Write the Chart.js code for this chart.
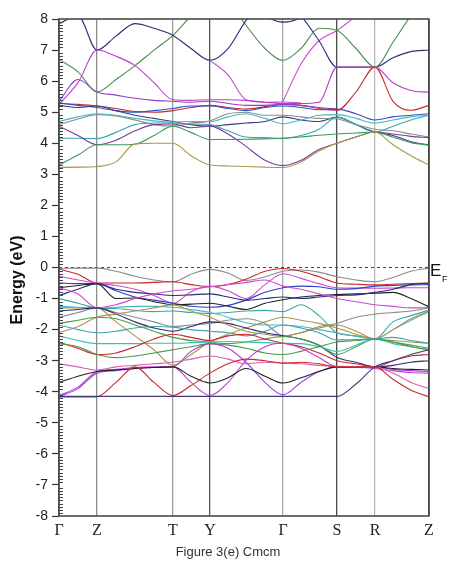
<!DOCTYPE html>
<html>
<head>
<meta charset="utf-8">
<script src="https://cdn.jsdelivr.net/npm/chart.js@4.4.0/dist/chart.umd.min.js"></script>
<style>
  html, body { margin: 0; padding: 0; background: #fff; }
  #wrap { width: 449px; height: 562px; position: relative; }
</style>
</head>
<body>
<div id="wrap"><canvas id="bands"></canvas></div>
<script>
// ===== k-path (distance along path) =====
const kPos = [0, 19, 38, 57, 76, 95, 114, 132, 151, 169, 187, 206, 224, 242, 260, 278, 297, 316, 334, 352, 370];
const kTicks = [0, 38, 114, 151, 224, 278, 316, 370];
const kLabels = ['Γ', 'Z', 'T', 'Y', 'Γ', 'S', 'R', 'Z'];
const energyTicks = [-8, -7, -6, -5, -4, -3, -2, -1, 0, 1, 2, 3, 4, 5, 6, 7, 8];
const efLevel = 0;

// ===== Conduction bands (eV at each kPos) =====
const c1  = [5.25, 5.95, 7.00, 6.80, 6.50, 5.95, 5.40, 5.38, 5.40, 5.40, 5.38, 5.32, 5.28, 5.28, 5.32, 6.45, 6.45, 6.45, 5.95, 5.70, 5.64];
const c2  = [7.85, 8.10, 7.00, 7.45, 7.85, 7.70, 7.47, 7.05, 6.67, 7.05, 7.95, 8.60, null, null, null, null, null, null, null, null, null];
const c3  = [6.70, 6.30, 5.65, 6.05, 6.50, 7.00, 7.47, 8.10, 8.70, null, null, null, null, null, null, null, null, null, null, null, null];
const c4  = [null, null, null, null, null, null, null, null, 6.67, 6.20, 5.40, 5.32, 5.33, 5.30, null, null, null, null, null, null, null];
const c5  = [5.35, 6.05, 5.65, 5.55, 5.45, 5.38, 5.35, 5.32, 5.35, 5.28, 5.22, 5.22, 5.25, 5.22, 5.15, 5.10, null, null, null, null, null];
const c6  = [null, null, null, null, null, null, null, null, null, 8.60, 7.80, 7.05, 6.67, 7.05, 7.70, 7.63, 7.05, 6.45, 7.25, 8.10, 8.70];
const c7  = [null, null, null, null, null, null, null, null, null, null, 8.60, 8.10, 7.90, 8.05, 8.60, null, null, null, null, null, null];
const c8  = [null, null, null, null, null, null, null, null, null, null, null, null, 8.60, 8.10, 7.30, 6.45, 6.45, 6.45, 6.75, 6.95, 7.00];
const c9  = [null, null, null, null, null, null, null, null, null, null, null, null, 5.35, 6.55, 7.30, 7.63, 8.10, 8.60, null, null, null];
const c10 = [5.28, 5.25, 5.20, 5.12, 5.02, 5.00, 5.05, 5.15, 5.22, 5.15, 5.10, 5.18, 5.25, 5.22, 5.12, 5.06, 5.65, 6.45, 5.35, 5.06, 5.22];
const l1  = [3.22, 3.23, 3.25, 3.40, 3.98, 4.00, 4.00, 3.60, 3.30, 3.27, 3.25, 3.23, 3.22, 3.40, 3.75, 4.00, 4.20, 4.36, 3.95, 3.60, 3.30];
const l2  = [3.30, 3.62, 3.95, 3.95, 3.97, 4.25, 4.55, 4.35, 4.12, 4.12, 4.13, 4.14, 4.16, 4.20, 4.26, 4.30, 4.33, 4.36, 4.20, 4.02, 3.94];
const l3  = [4.55, 4.25, 3.95, 4.10, 4.40, 4.60, 4.62, 4.50, 4.55, 4.30, 3.90, 3.45, 3.28, 3.45, 3.80, 4.00, 4.20, 4.36, 4.30, 4.22, 4.18];
const l4  = [4.16, 4.16, 4.15, 4.35, 4.60, 4.65, 4.65, 4.62, 4.60, 4.40, 4.20, 4.18, 4.16, 4.25, 4.45, 4.84, 4.60, 4.36, 4.55, 4.75, 4.90];
const l5  = [4.70, 4.85, 4.95, 4.90, 4.80, 4.72, 4.68, 4.70, 4.70, 4.85, 4.95, 4.80, 4.63, 4.75, 4.90, 4.92, 4.80, 4.65, 4.75, 4.85, 4.90];
const l6  = [4.60, 4.78, 4.92, 4.88, 4.75, 4.60, 4.55, 4.65, 4.72, 4.95, 5.00, 4.90, 4.90, 4.85, 4.80, 4.78, 4.60, 4.45, 4.40, 4.30, 4.20];
const l7  = [5.22, 5.15, 5.20, 5.05, 4.90, 4.80, 4.70, 4.60, 4.55, 4.60, 4.65, 4.70, 4.85, 4.75, 4.70, 4.84, 4.60, 4.36, 4.25, 4.05, 3.94];
const l8  = [5.30, 5.22, 5.15, 5.05, 5.00, 5.05, 5.12, 5.20, 5.20, 5.12, 5.05, 5.15, 5.20, 5.15, 5.08, 5.10, 4.95, 4.75, 4.85, 4.90, 4.95];

// ===== Valence bands =====
const v1  = [-0.03, -0.02, -0.02, -0.12, -0.28, -0.40, -0.46, -0.22, -0.06, -0.18, -0.42, -0.30, -0.12, -0.08, -0.15, -0.30, -0.40, -0.46, -0.32, -0.12, -0.02];
const v2  = [-0.05, -0.22, -0.50, -0.50, -0.50, -0.48, -0.46, -0.55, -0.62, -0.55, -0.38, -0.12, -0.03, -0.12, -0.30, -0.50, -0.54, -0.56, -0.54, -0.52, -0.50];
const v3  = [-0.28, -0.40, -0.50, -0.58, -0.70, -0.90, -1.15, -0.78, -0.60, -0.75, -1.00, -0.55, -0.20, -0.35, -0.52, -0.65, -0.66, -0.67, -0.66, -0.65, -0.65];
const v4  = [-0.50, -0.52, -0.52, -0.75, -0.95, -1.05, -1.15, -1.25, -1.28, -1.22, -1.05, -0.80, -0.65, -0.60, -0.62, -0.70, -0.68, -0.60, -0.58, -0.56, -0.55];
const v5  = [-0.65, -0.58, -0.52, -1.00, -0.98, -1.10, -1.20, -1.18, -1.15, -1.25, -1.35, -1.15, -1.04, -0.95, -0.90, -0.87, -0.85, -0.83, -0.80, -1.00, -1.27];
const v6  = [-0.90, -0.70, -0.52, -0.70, -0.80, -0.85, -0.90, -0.88, -0.85, -0.95, -1.05, -1.00, -0.95, -1.00, -0.95, -0.90, -0.88, -0.80, -0.70, -0.55, -0.50];
const v7  = [-1.00, -1.15, -1.30, -1.32, -1.38, -1.42, -1.40, -1.45, -1.48, -1.45, -1.40, -1.38, -1.42, -1.20, -1.55, -2.10, -2.20, -2.30, -1.75, -1.55, -1.37];
const v8  = [-1.25, -1.28, -1.30, -1.28, -1.25, -1.25, -1.28, -1.35, -1.45, -1.60, -1.78, -1.85, -1.85, -1.90, -2.00, -2.10, -2.22, -2.30, -2.00, -1.70, -1.42];
const v9  = [-1.30, -1.30, -1.30, -1.75, -2.20, -2.65, -3.15, -2.80, -2.40, -2.15, -1.95, -1.75, -1.60, -1.70, -1.80, -1.95, -2.15, -2.30, -2.35, -2.40, -2.44];
const v10 = [-1.60, -1.45, -1.30, -1.45, -1.60, -1.75, -1.90, -1.85, -1.80, -1.70, -1.65, -1.80, -2.20, -2.10, -1.90, -1.80, -1.60, -1.50, -1.45, -1.40, -1.30];
const v11 = [-1.80, -1.70, -1.60, -1.65, -1.85, -2.05, -2.25, -2.35, -2.40, -2.45, -2.40, -2.30, -2.22, -2.30, -2.50, -2.80, -2.55, -2.30, -2.40, -2.50, -2.60];
const v12 = [-2.20, -2.35, -2.45, -2.45, -2.45, -2.44, -2.44, -2.42, -2.40, -2.38, -2.40, -2.42, -2.44, -2.45, -2.55, -2.70, -2.50, -2.30, -2.45, -2.55, -2.65];
const v13 = [-2.40, -2.60, -2.80, -2.75, -2.55, -2.30, -2.15, -2.25, -2.35, -2.20, -2.15, -2.30, -2.44, -2.55, -2.75, -3.00, -3.10, -3.20, -3.00, -2.85, -2.80];
const v14 = [-4.12, -3.85, -3.35, -3.28, -3.22, -3.20, -3.20, -3.70, -4.12, -3.70, -3.00, -2.55, -2.44, -2.60, -2.90, -3.20, -3.22, -3.25, -3.32, -3.38, -3.40];
const v15 = [-4.15, -3.90, -3.40, -3.32, -3.25, -3.22, -3.20, -2.70, -2.45, -2.60, -3.05, -3.70, -4.10, -3.70, -3.35, -3.20, -3.20, -3.20, -3.28, -3.32, -3.35];
const v16 = [-3.70, -3.50, -3.35, -3.30, -3.25, -3.22, -3.20, -3.50, -3.72, -3.55, -3.25, -3.50, -3.72, -3.55, -3.35, -3.20, -3.20, -3.20, -3.25, -3.28, -3.30];
const v17 = [-3.10, -3.20, -3.30, -3.20, -3.15, -3.10, -3.05, -2.95, -2.85, -2.95, -3.10, -3.05, -3.08, -3.10, -3.15, -3.18, -3.19, -3.20, -3.40, -3.70, -3.90];
const v18 = [-4.15, -4.15, -4.15, -4.15, -4.15, -4.15, -4.15, -4.15, -4.15, -4.15, -4.15, -4.15, -4.15, -4.15, -4.15, -4.15, -3.75, -3.20, -3.00, -2.80, -2.65];
const v19 = [-4.17, -4.17, -4.16, -3.70, -3.20, -3.70, -4.12, -3.80, -3.40, -3.10, -2.95, -3.00, -3.08, -3.05, -3.10, -3.20, -3.20, -3.20, -3.60, -3.95, -4.16];
const v20 = [-1.85, -2.00, -2.10, -2.05, -1.95, -1.90, -1.92, -2.00, -2.05, -2.10, -2.20, -2.05, -1.85, -1.95, -2.10, -2.33, -2.32, -2.30, -2.25, -2.35, -2.44];
const v21 = [-2.10, -1.90, -1.60, -1.50, -1.40, -1.30, -1.20, -1.40, -1.60, -1.85, -2.05, -2.15, -2.22, -2.10, -1.95, -1.85, -2.05, -2.30, -2.00, -1.65, -1.40];
const v22 = [-2.45, -2.55, -2.80, -2.90, -2.85, -2.75, -2.65, -2.55, -2.45, -2.50, -2.60, -2.75, -2.80, -2.70, -2.55, -2.40, -2.35, -2.30, -2.40, -2.55, -2.65];
const v23 = [-1.40, -1.35, -1.30, -1.50, -1.75, -1.95, -2.05, -1.90, -1.75, -1.80, -1.95, -2.10, -2.20, -2.30, -2.50, -2.90, -3.05, -3.20, -3.15, -3.05, -3.00];
const v24 = [-0.65, -0.85, -1.30, -1.20, -1.00, -0.85, -0.75, -0.70, -0.62, -0.55, -0.48, -0.40, -0.60, -0.70, -0.85, -1.00, -1.10, -1.20, -1.25, -1.30, -1.30];

const bandList = [
  l1, l2, l3, l4, l5, l6, l7, l8, c1, c2, c3, c4, c5, c6, c7, c8, c9, c10,
  v18, v19, v17, v16, v15, v14, v22, v13, v12, v11, v20, v21, v23, v10, v9, v8, v7, v24, v6, v5, v4, v3, v2, v1
];

// line colours, same order as bandList
const bandColors = [
  '#a89648', '#3c9a5a', '#7a3c9a', '#3aa6b0', '#48b8c0', '#8c8c8c', '#3a3a88', '#3050c8',
  '#c03cc8', '#2b2b78', '#4a8f4a', '#d04ad0', '#9040c8', '#4a8f4a', '#2b2b78', '#303070', '#d04ad0', '#c8282e',
  '#3c3c7c', '#c8282e', '#d860b0', '#222222', '#a040d8', '#c040d0', '#4a9a4a', '#c8282e', '#3ac0b0', '#4a9a4a',
  '#3aa6b0', '#a89648', '#2b2b78', '#8c8c8c', '#a89648', '#48b8c8', '#3aa6a0', '#d04ad0', '#2b2b78', '#222222',
  '#2e3ec8', '#d04ad0', '#c8282e', '#8c8c8c'
];

// high-symmetry line shades, same order as kTicks
const vlineColors = ['#555', '#8c8c8c', '#9a9a9a', '#555', '#a8a8a8', '#4a4a4a', '#b8b8b8', '#333'];

const FONT_SANS = '"Liberation Sans", Arial, sans-serif';
const FONT_SERIF = '"Liberation Serif", "Times New Roman", serif';

const datasets = bandList.map((e, i) => ({
  data: kPos.map((k, j) => ({ x: k, y: e[j] })),
  borderColor: bandColors[i],
  borderWidth: 1.1,
  pointRadius: 0,
  fill: false,
  cubicInterpolationMode: 'monotone',
  spanGaps: false,
}));

// Fermi level
datasets.push({
  data: [{ x: kPos[0], y: efLevel }, { x: kPos[kPos.length - 1], y: efLevel }],
  borderColor: '#444',
  borderWidth: 1,
  borderDash: [3, 3],
  pointRadius: 0,
  fill: false,
});

// ===== frame, minor ticks, E_F and titles =====
const bandFrame = {
  id: 'bandFrame',
  afterDraw(chart) {
    const { ctx, chartArea: a, scales: { y } } = chart;
    ctx.save();

    // minor ticks on the inside of the energy axis
    ctx.strokeStyle = '#444';
    ctx.lineWidth = 1;
    for (let i = -80; i <= 80; i++) {
      if (i % 10 === 0) continue;
      const py = Math.round(y.getPixelForValue(i / 10)) + 0.5;
      ctx.beginPath();
      ctx.moveTo(a.left, py);
      ctx.lineTo(a.left + 4, py);
      ctx.stroke();
    }

    ctx.strokeStyle = '#4a4a4a';
    ctx.lineWidth = 1.6;
    ctx.strokeRect(a.left, a.top, a.right - a.left, a.bottom - a.top);

    const y0 = y.getPixelForValue(efLevel);
    ctx.fillStyle = '#111';
    ctx.textAlign = 'left';
    ctx.textBaseline = 'alphabetic';
    ctx.font = '17px ' + FONT_SANS;
    ctx.fillText('E', a.right + 1, y0 + 8);
    ctx.font = '9px ' + FONT_SANS;
    ctx.fillText('F', a.right + 13, y0 + 14);

    ctx.save();
    ctx.translate(18, 280);
    ctx.rotate(-Math.PI / 2);
    ctx.textAlign = 'center';
    ctx.textBaseline = 'middle';
    ctx.font = 'bold 16px ' + FONT_SANS;
    ctx.fillText('Energy (eV)', 0, 0);
    ctx.restore();

    ctx.fillStyle = '#333';
    ctx.textAlign = 'center';
    ctx.textBaseline = 'middle';
    ctx.font = '13px ' + FONT_SANS;
    ctx.fillText('Figure 3(e) Cmcm', 228, 552);

    ctx.restore();
  }
};

new Chart(document.getElementById('bands'), {
  type: 'line',
  data: { datasets },
  plugins: [bandFrame],
  options: {
    responsive: true,
    maintainAspectRatio: false,
    animation: false,
    events: [],
    layout: { padding: { top: 19, right: 20, left: 0, bottom: 0 } },
    plugins: { legend: { display: false }, tooltip: { enabled: false } },
    scales: {
      x: {
        type: 'linear',
        min: kPos[0],
        max: kPos[kPos.length - 1],
        afterBuildTicks: (scale) => { scale.ticks = kTicks.map(v => ({ value: v })); },
        afterFit: (scale) => { scale.height = 46; },
        ticks: {
          autoSkip: false,
          maxRotation: 0,
          padding: 5,
          color: '#222',
          font: { family: FONT_SERIF, size: 16 },
          callback: (v, i) => kLabels[i],
        },
        grid: {
          drawTicks: false,
          lineWidth: 1.3,
          color: (ctx) => vlineColors[ctx.index] || '#888',
        },
        border: { display: false },
      },
      y: {
        min: energyTicks[0],
        max: energyTicks[energyTicks.length - 1],
        afterBuildTicks: (scale) => { scale.ticks = energyTicks.map(v => ({ value: v })); },
        afterFit: (scale) => { scale.width = 59; },
        ticks: {
          padding: 4,
          color: '#222',
          font: { family: FONT_SANS, size: 14 },
          callback: (v) => String(v),
        },
        grid: {
          drawOnChartArea: false,
          drawTicks: true,
          tickLength: 7,
          tickWidth: 1.2,
          tickColor: '#333',
          color: '#333',
        },
        border: { display: false },
      }
    }
  }
});
</script>
</body>
</html>
